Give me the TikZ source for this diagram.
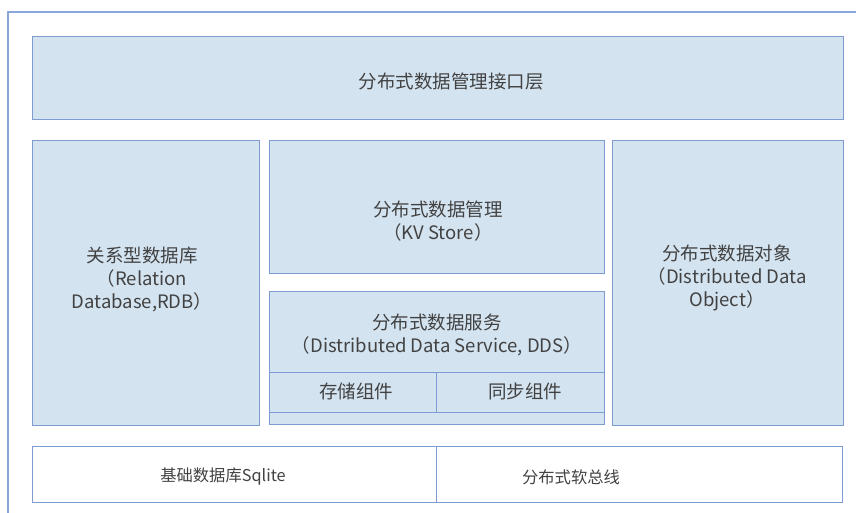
\documentclass[tikz,border=0pt]{standalone}
\usepackage{fontspec}
\setmainfont{Noto Sans CJK SC}
\definecolor{boxfill}{HTML}{D3E3F0}
\definecolor{boxline}{HTML}{7C9CD2}
\definecolor{frameline}{HTML}{8AA6D8}
\definecolor{txt}{HTML}{424242}
\begin{document}
\begin{tikzpicture}[x=1pt,y=-1pt,
  box/.style={draw=boxline, line width=1.3pt, fill=boxfill, inner sep=0pt, anchor=north west},
  wbox/.style={box, fill=white},
  lbl/.style={text=txt, font=\fontsize{18.5}{23}\selectfont, align=center, inner sep=0pt},
  slbl/.style={lbl, font=\fontsize{16.3}{20}\selectfont}]
\useasboundingbox (0,0) rectangle (856,512);
\fill[white] (0,0) rectangle (856,512);
% outer frame (partially visible)
\coordinate (fbl) at (8,530);
\coordinate (ftl) at (8,12);
\coordinate (ftr) at (870,12);
\draw[frameline, line width=1.2pt] (fbl) -- (ftl) -- (ftr);
% boxes
\node[box, minimum width=811pt, minimum height=83pt] (api) at (32,36) {};
\node[box, minimum width=227pt, minimum height=285pt] (rdb) at (32,140) {};
\node[box, minimum width=335pt, minimum height=133pt] (kv) at (269,140) {};
\node[box, minimum width=335pt, minimum height=133pt] (dds) at (269,291) {};
\node[box, minimum width=167pt, minimum height=40pt] (store) at (269,372) {};
\node[box, minimum width=168pt, minimum height=40pt] (sync) at (436,372) {};
\node[box, minimum width=231pt, minimum height=285pt] (obj) at (612,140) {};
\node[wbox, minimum width=404pt, minimum height=56pt] (sqlite) at (32,446) {};
\node[wbox, minimum width=406pt, minimum height=56pt] (bus) at (436,446) {};
% labels
\node[lbl] (tapi) at (451,82) {分布式数据管理接口层};
\node[lbl] (trdb) at (142,279) {关系型数据库\\（Relation\\Database,RDB）};
\node[lbl] (tkv) at (438,221) {分布式数据管理\\（KV Store）};
\node[lbl] (tdds) at (437,334.5) {分布式数据服务\\（Distributed Data Service, DDS）};
\node[lbl] (tstore) at (356,391) {存储组件};
\node[lbl] (tsync) at (525,391) {同步组件};
\node[lbl] (tobj) at (727,278) {分布式数据对象\\（Distributed Data\\Object）};
\node[slbl] (tsqlite) at (223,477) {基础数据库Sqlite};
\node[slbl] (tbus) at (571,477) {分布式软总线};
\end{tikzpicture}
\end{document}
